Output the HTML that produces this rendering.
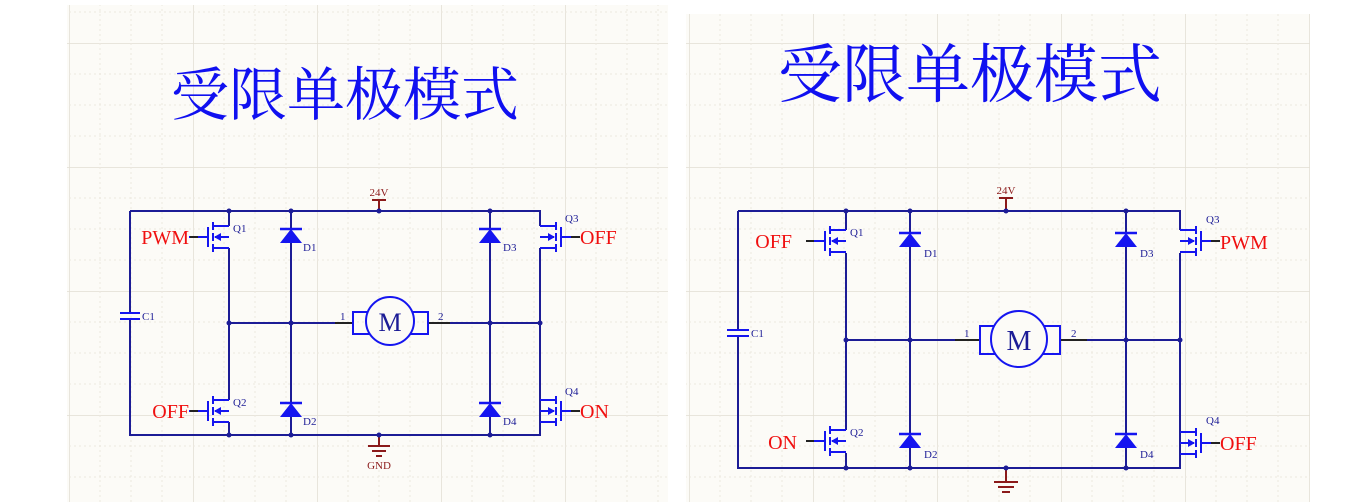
<!DOCTYPE html>
<html><head><meta charset="utf-8"><style>
html,body{margin:0;padding:0;background:#fff;width:1354px;height:502px;overflow:hidden}
svg{display:block}
.w{stroke:#1c1c96;stroke-width:2;fill:none}
.k{stroke:#222;stroke-width:2;fill:none}
.b{stroke:#1515f0;stroke-width:2;fill:none}
.r{stroke:#8b1a1a;stroke-width:2;fill:none}
.lbl{font-family:"Liberation Serif",serif;fill:#f01010;font-size:20px}
.des{font-family:"Liberation Serif",serif;fill:#1c1c96;font-size:11px}
.pw{font-family:"Liberation Serif",serif;fill:#8b1a1a;font-size:11px}
.t{font-family:"Liberation Serif","Noto Serif CJK SC",serif;fill:#1010f0}
</style></head><body>
<svg width="1354" height="502" viewBox="0 0 1354 502" xmlns="http://www.w3.org/2000/svg">
<defs>
<pattern id="g1" x="69" y="43" width="124" height="124" patternUnits="userSpaceOnUse">
<path d="M0 0H124M0 0V124" stroke="#e2ded4" stroke-width="1.5" fill="none"/>
<path d="M31 0V124M62 0V124M93 0V124M0 31H124M0 62H124M0 93H124" stroke="#ece8df" stroke-width="1" stroke-dasharray="2 3" fill="none"/>
</pattern>
<g id="fet">
<path d="M-16 -11H0M-16 11H0M-14 0H0" stroke="#1515f0" stroke-width="2" fill="none"/>
<path d="M-16 -15V-7M-16 -4V4M-16 7V15M-21 -10V10M-40 0H-21" stroke="#1515f0" stroke-width="2" fill="none"/>
<polygon points="-15,0 -8,-4 -8,4" fill="#1515f0"/>
</g>
<g id="dio">
<polygon points="-11,7 11,7 0,-7" fill="#1515f0"/>
<path d="M-11 -7H11" stroke="#1515f0" stroke-width="2.5"/>
</g>
</defs>

<!-- left panel -->
<rect x="67" y="5" width="601" height="497" fill="#fcfbf7"/>
<rect x="67" y="5" width="601" height="497" fill="url(#g1)"/>
<!-- right panel -->
<rect x="686" y="14" width="624" height="488" fill="#fcfbf7"/>
<rect x="686" y="14" width="624" height="488" fill="url(#g1)"/>

<text class="t" x="345" y="115" font-size="58" text-anchor="middle">受限单极模式</text>
<text class="t" x="970" y="97" font-size="64" text-anchor="middle">受限单极模式</text>

<!-- ===== LEFT SCHEMATIC ===== -->
<g>
<path class="w" d="M130 211H540V226M540 248V435H130V319M130 313V211"/>
<path class="w" d="M229 211V226M229 248V400M229 422V435"/>
<path class="w" d="M291 211V229M291 243V403M291 417V435"/>
<path class="w" d="M490 211V229M490 243V403M490 417V435"/>
<path class="w" d="M540 248V400"/>
<path class="w" d="M229 323H335M450 323H540"/>
<path class="k" d="M335 323H353M428 323H450"/>
<path class="b" d="M120 313H140M120 319H140"/>
<text class="des" x="142" y="320">C1</text>
<use href="#fet" transform="translate(229,237)"/>
<use href="#fet" transform="translate(229,411)"/>
<use href="#fet" transform="translate(540,237) scale(-1,1)"/>
<use href="#fet" transform="translate(540,411) scale(-1,1)"/>
<path class="k" d="M190 237H198M190 411H198M571 237H580M571 411H580"/>
<text class="des" x="233" y="232">Q1</text><text class="des" x="233" y="406">Q2</text>
<text class="des" x="565" y="222">Q3</text><text class="des" x="565" y="395">Q4</text>
<text class="lbl" x="189" y="244" text-anchor="end">PWM</text>
<text class="lbl" x="189" y="418" text-anchor="end">OFF</text>
<text class="lbl" x="580" y="244">OFF</text>
<text class="lbl" x="580" y="418">ON</text>
<use href="#dio" transform="translate(291,236)"/>
<use href="#dio" transform="translate(291,410)"/>
<use href="#dio" transform="translate(490,236)"/>
<use href="#dio" transform="translate(490,410)"/>
<text class="des" x="303" y="251">D1</text><text class="des" x="303" y="425">D2</text>
<text class="des" x="503" y="251">D3</text><text class="des" x="503" y="425">D4</text>
<rect x="353" y="312" width="75" height="22" class="b" fill="none"/>
<circle cx="390" cy="321" r="24" fill="#fcfbf7" stroke="#1515f0" stroke-width="2"/>
<text x="390" y="331" font-family="Liberation Serif,serif" font-size="26" fill="#1c1c96" text-anchor="middle">M</text>
<text class="des" x="340" y="320">1</text><text class="des" x="438" y="320">2</text>
<path class="r" d="M379 211V200M372 200H386"/>
<text class="pw" x="379" y="196" text-anchor="middle">24V</text>
<path class="r" d="M379 435V446M368 446H390M372 451H386M376 456H382"/>
<text class="pw" x="379" y="469" text-anchor="middle">GND</text>
<g fill="#1c1c96">
<circle cx="229" cy="211" r="2.5"/><circle cx="291" cy="211" r="2.5"/><circle cx="379" cy="211" r="2.5"/><circle cx="490" cy="211" r="2.5"/>
<circle cx="229" cy="323" r="2.5"/><circle cx="291" cy="323" r="2.5"/><circle cx="490" cy="323" r="2.5"/><circle cx="540" cy="323" r="2.5"/>
<circle cx="229" cy="435" r="2.5"/><circle cx="291" cy="435" r="2.5"/><circle cx="379" cy="435" r="2.5"/><circle cx="490" cy="435" r="2.5"/>
</g>
</g>

<!-- ===== RIGHT SCHEMATIC ===== -->
<g>
<path class="w" d="M738 211H1180V230M1180 253V468H738V336M738 330V211"/>
<path class="w" d="M846 211V230M846 253V430M846 453V468"/>
<path class="w" d="M910 211V233M910 247V434M910 448V468"/>
<path class="w" d="M1126 211V233M1126 247V434M1126 448V468"/>
<path class="w" d="M1180 253V430"/>
<path class="w" d="M846 340H955M1087 340H1180"/>
<path class="k" d="M955 340H980M1060 340H1087"/>
<path class="b" d="M727 330H749M727 336H749"/>
<text class="des" x="751" y="337">C1</text>
<use href="#fet" transform="translate(846,241)"/>
<use href="#fet" transform="translate(846,441)"/>
<use href="#fet" transform="translate(1180,241) scale(-1,1)"/>
<use href="#fet" transform="translate(1180,443) scale(-1,1)"/>
<path class="k" d="M806 241H814M806 441H814M1211 241H1220M1211 443H1220"/>
<text class="des" x="850" y="236">Q1</text><text class="des" x="850" y="436">Q2</text>
<text class="des" x="1206" y="223">Q3</text><text class="des" x="1206" y="424">Q4</text>
<text class="lbl" x="792" y="248" text-anchor="end">OFF</text>
<text class="lbl" x="797" y="449" text-anchor="end">ON</text>
<text class="lbl" x="1220" y="249">PWM</text>
<text class="lbl" x="1220" y="450">OFF</text>
<use href="#dio" transform="translate(910,240)"/>
<use href="#dio" transform="translate(910,441)"/>
<use href="#dio" transform="translate(1126,240)"/>
<use href="#dio" transform="translate(1126,441)"/>
<text class="des" x="924" y="257">D1</text><text class="des" x="924" y="458">D2</text>
<text class="des" x="1140" y="257">D3</text><text class="des" x="1140" y="458">D4</text>
<rect x="980" y="326" width="80" height="28" class="b" fill="none"/>
<circle cx="1019" cy="339" r="28" fill="#fcfbf7" stroke="#1515f0" stroke-width="2"/>
<text x="1019" y="350" font-family="Liberation Serif,serif" font-size="28" fill="#1c1c96" text-anchor="middle">M</text>
<text class="des" x="964" y="337">1</text><text class="des" x="1071" y="337">2</text>
<path class="r" d="M1006 211V198M999 198H1013"/>
<text class="pw" x="1006" y="194" text-anchor="middle">24V</text>
<path class="r" d="M1006 468V482M994 482H1018M998 487H1014M1002 492H1010"/>
<g fill="#1c1c96">
<circle cx="846" cy="211" r="2.5"/><circle cx="910" cy="211" r="2.5"/><circle cx="1006" cy="211" r="2.5"/><circle cx="1126" cy="211" r="2.5"/>
<circle cx="846" cy="340" r="2.5"/><circle cx="910" cy="340" r="2.5"/><circle cx="1126" cy="340" r="2.5"/><circle cx="1180" cy="340" r="2.5"/>
<circle cx="846" cy="468" r="2.5"/><circle cx="910" cy="468" r="2.5"/><circle cx="1006" cy="468" r="2.5"/><circle cx="1126" cy="468" r="2.5"/>
</g>
</g>
</svg>
</body></html>
